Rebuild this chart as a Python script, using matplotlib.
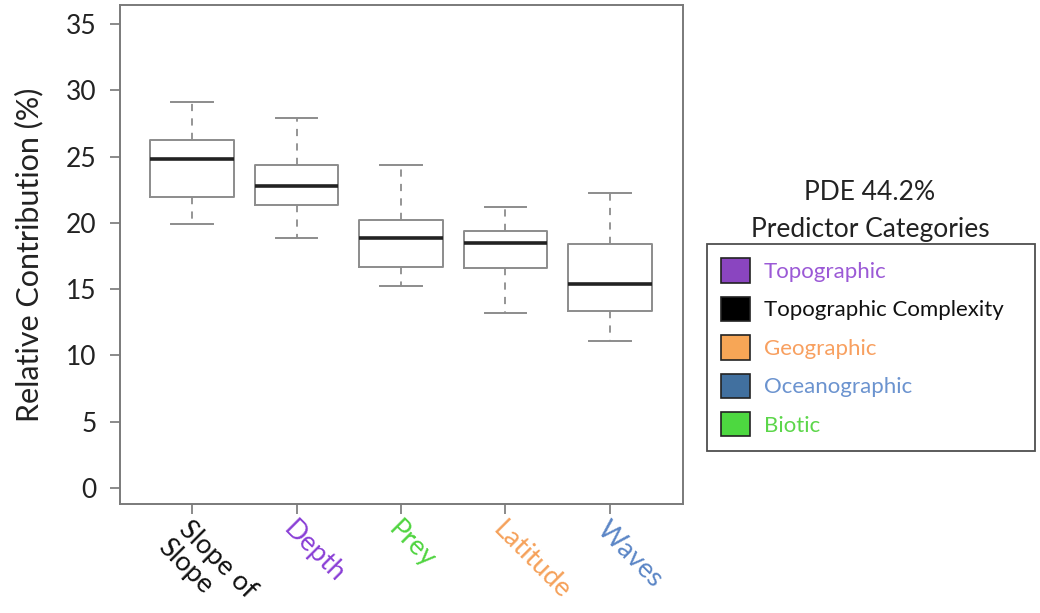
import matplotlib
matplotlib.use("Agg")
import matplotlib.pyplot as plt
from matplotlib.patches import Patch

plt.rcParams['font.family'] = ['Lato', 'DejaVu Sans']

categories = ["Slope of", "Depth", "Prey", "Latitude", "Waves"]
category_second_line = ["Slope", "", "", "", ""]
label_colors = ["#111111", "#8a3fd6", "#4fd43f", "#f5a15a", "#5b86c6"]
whisker_low = [19.9, 18.85, 15.23, 13.2, 11.1]
q1 = [21.97, 21.34, 16.64, 16.59, 13.35]
medians = [24.85, 22.8, 18.83, 18.5, 15.36]
q3 = [26.22, 24.38, 20.21, 19.4, 18.4]
whisker_high = [29.13, 27.88, 24.36, 21.22, 22.22]

legend_labels = ["Topographic", "Topographic Complexity", "Geographic", "Oceanographic", "Biotic"]
legend_patch_colors = ["#8a45c0", "#000000", "#f7a656", "#41709f", "#4dd840"]
legend_text_colors = ["#9b59d6", "#111111", "#f8a060", "#6b93cf", "#5cd64a"]
yticks = [0, 5, 10, 15, 20, 25, 30, 35]

fig = plt.figure(figsize=(10.4, 6.13), dpi=100)
ax = fig.add_axes([120/1040, 1-504/613, (683-120)/1040, (504-5)/613])

stats = []
for i in range(len(categories)):
    stats.append(dict(med=medians[i], q1=q1[i], q3=q3[i],
                      whislo=whisker_low[i], whishi=whisker_high[i], fliers=[]))
gray = "#8c8c8c"
ax.bxp(stats, positions=range(1, len(categories)+1), widths=0.8, showfliers=False,
       boxprops=dict(color=gray, linewidth=1.4),
       whiskerprops=dict(color=gray, linewidth=1.3, linestyle=(0, (4, 4))),
       capprops=dict(color=gray, linewidth=1.4),
       medianprops=dict(color="#222222", linewidth=2.6),
       capwidths=0.4)

ax.set_xlim(0.31, 5.70)
ax.set_ylim(-1.21, 36.43)
ax.set_yticks(yticks)
ax.set_yticklabels([str(t) for t in yticks], fontsize=19, color="#222222")
ax.set_xticks(range(1, len(categories)+1))
xfs = 19.5
ax.set_xticklabels(categories, rotation=-45, ha='left', va='top',
                   rotation_mode='anchor', fontsize=xfs)
for lbl, c in zip(ax.get_xticklabels(), label_colors):
    lbl.set_color(c)
# second line of multi-line category labels, placed one line below in the rotated frame
line_h = 1.13 * xfs
off = line_h * 0.7071
for i, (s2, c) in enumerate(zip(category_second_line, label_colors)):
    if s2:
        ax.annotate(s2, xy=(i + 1, 0), xycoords=('data', 'axes fraction'),
                    xytext=(-off, -6.5 - off), textcoords='offset points',
                    rotation=-45, ha='left', va='top', rotation_mode='anchor',
                    fontsize=xfs, color=c, annotation_clip=False)
ax.tick_params(axis='both', direction='out', length=7, width=1.2, color="#777777")
ax.tick_params(axis='y', pad=10)
ax.tick_params(axis='x', pad=2)
for s in ax.spines.values():
    s.set_color("#7a7a7a")
    s.set_linewidth(1.4)
ax.set_ylabel("Relative Contribution (%)", fontsize=22, color="#222222", labelpad=16)

fig.text(870/1040, 1-193/613, "PDE 44.2%", ha='center', va='center', fontsize=19, color="#222222")
fig.text(870/1040, 1-230/613, "Predictor Categories", ha='center', va='center', fontsize=19, color="#222222")

handles = [Patch(facecolor=c, edgecolor="#222222", linewidth=1.2) for c in legend_patch_colors]
leg = fig.legend(handles, legend_labels, loc='upper left',
                 bbox_to_anchor=(707/1040, 1-450/613, 328/1040, 206/613), mode='expand',
                 fontsize=16, frameon=True, fancybox=False, handlelength=1.3, handleheight=1.3,
                 labelspacing=0.64, handletextpad=0.6, borderpad=0.65, borderaxespad=0)
leg.get_frame().set_edgecolor("#222222")
leg.get_frame().set_linewidth(1.3)
for t, c in zip(leg.get_texts(), legend_text_colors):
    t.set_color(c)

fig.savefig("out.png", dpi=100)
